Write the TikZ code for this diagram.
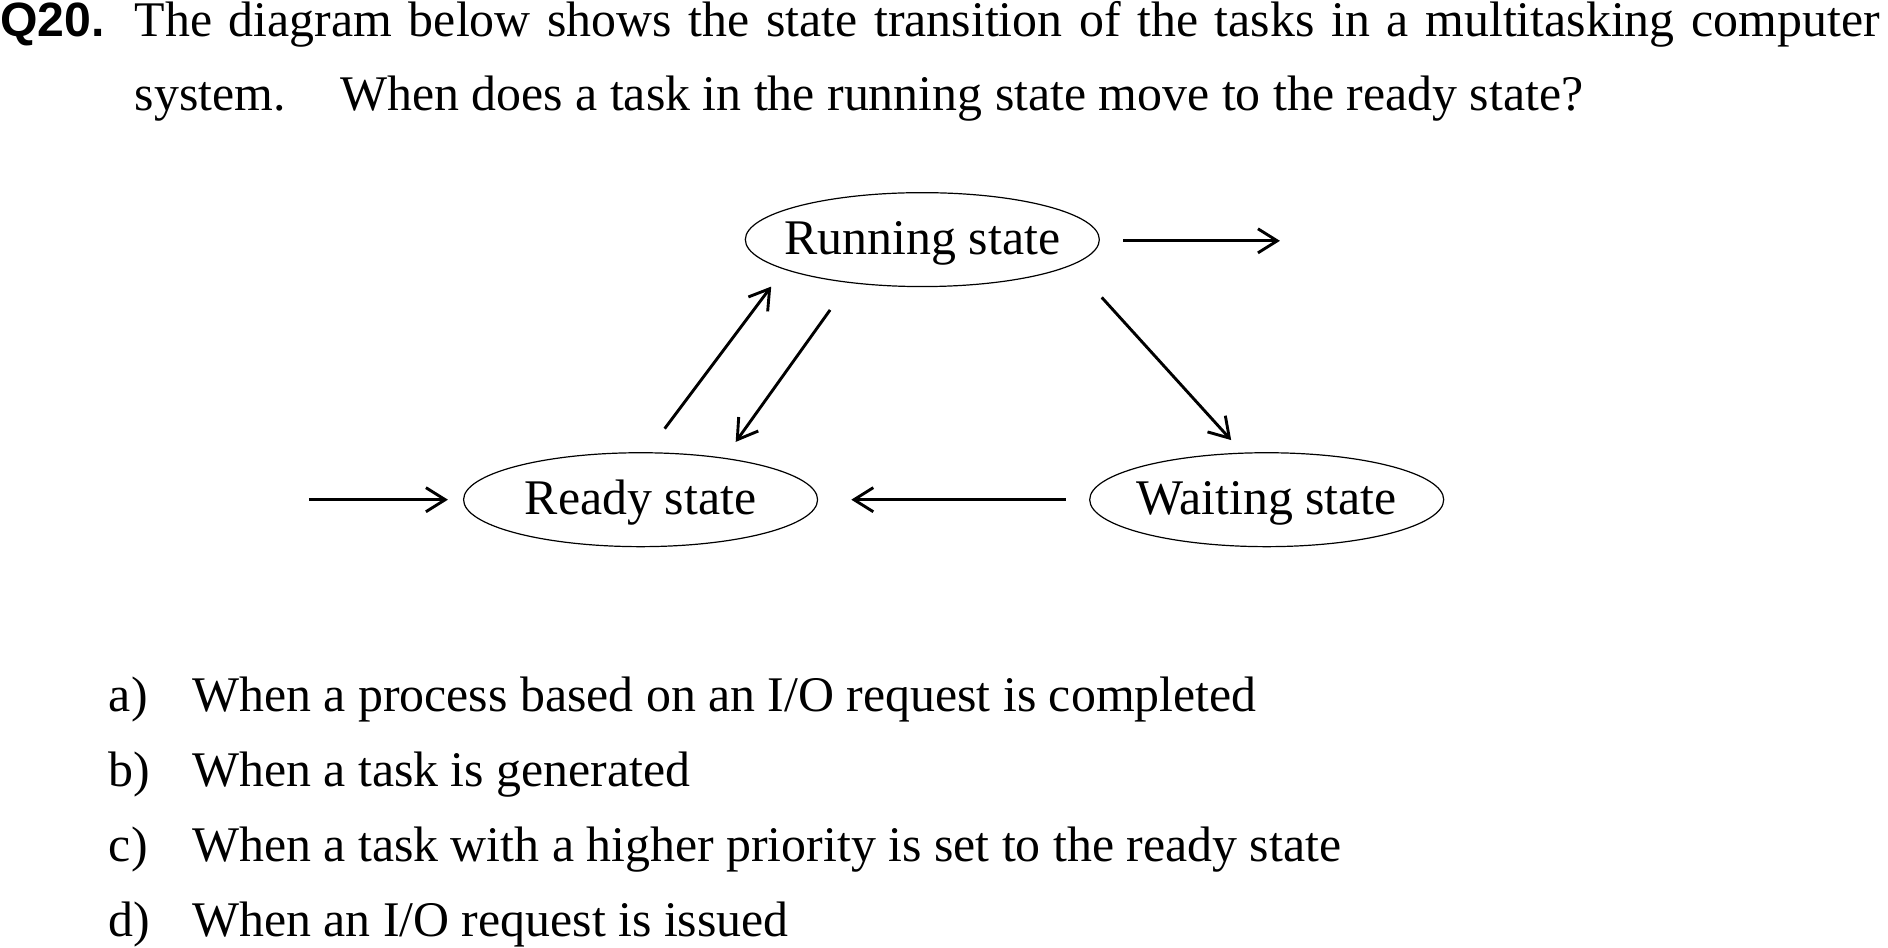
\documentclass[tikz,border=0pt]{standalone}
\usepackage{fontspec}
\setmainfont{Liberation Serif}
\newfontfamily\qfont{Liberation Sans}
\usetikzlibrary{arrows.meta,shapes.geometric}
\begin{document}
\begin{tikzpicture}[x=1pt,y=-1pt,
  every node/.style={inner sep=0pt, outer sep=0pt},
  txt/.style={font=\fontsize{41.4pt}{50pt}\selectfont, anchor=base west},
  statebox/.style={draw, ellipse, line width=1pt, minimum width=294pt, minimum height=78pt},
  statelbl/.style={font=\fontsize{41.4pt}{50pt}\selectfont, anchor=base},
  arr/.style={line width=2.4pt, -{Straight Barb[length=16pt,width=20pt]}}]
\useasboundingbox (0,0) rectangle (1568,787.3);

% question
\node[anchor=base west, font=\qfont\bfseries\fontsize{40pt}{48pt}\selectfont] (q) at (0,30) {Q20.};
\node[txt] (l1) at (112,30) {\makebox[1449pt][s]{The diagram below shows the state transition of the tasks in a multitasking computer}};
\node[txt] (l2) at (112,91.4) {\makebox[170.5pt][l]{system.}When does a task in the running state move to the ready state?};

% states
\node[statebox] (running) at (766,199) {};
\node[statebox] (ready) at (532,415) {};
\node[statebox] (waiting) at (1052,415) {};
\node[statelbl] (runlbl) at (766,211) {Running state};
\node[statelbl] (readylbl) at (532,427) {Ready state};
\node[statelbl] (waitlbl) at (1052,427) {Waiting state};

% connector end points
\coordinate (outA) at (933,200);
\coordinate (outB) at (1063,200);
\coordinate (inA) at (256.5,415);
\coordinate (inB) at (372,415);
\coordinate (upA) at (552,356);
\coordinate (upB) at (640.5,238);
\coordinate (dnA) at (689.4,257.4);
\coordinate (dnB) at (611,367);
\coordinate (rwA) at (915,247);
\coordinate (rwB) at (1022.5,365.5);
\coordinate (wrA) at (885,415);
\coordinate (wrB) at (707,415);

\draw[arr] (outA) -- (outB);
\draw[arr] (inA) -- (inB);
\draw[arr] (upA) -- (upB);
\draw[arr] (dnA) -- (dnB);
\draw[arr] (rwA) -- (rwB);
\draw[arr] (wrA) -- (wrB);

% options
\node[txt] (oa) at (90.5,590.7) {a)};
\node[txt] (ta) at (159.5,590.7) {When a process based on an I/O request is completed};
\node[txt] (ob) at (90.5,653.3) {b)};
\node[txt] (tb) at (159.5,653.3) {When a task is generated};
\node[txt] (oc) at (90.5,715.3) {c)};
\node[txt] (tc) at (159.5,715.3) {When a task with a higher priority is set to the ready state};
\node[txt] (od) at (90.5,777.8) {d)};
\node[txt] (td) at (159.5,777.8) {When an I/O request is issued};
\end{tikzpicture}
\end{document}
